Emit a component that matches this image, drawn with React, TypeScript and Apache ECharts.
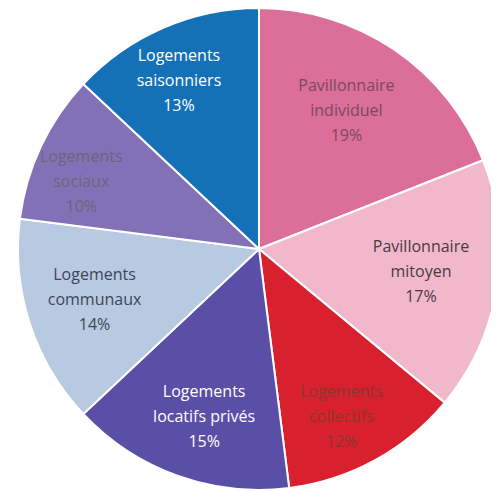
import React, { useEffect, useRef } from "react";
import * as echarts from "echarts";

const categories = [
  "Pavillonnaire\nindividuel",
  "Pavillonnaire\nmitoyen",
  "Logements\ncollectifs",
  "Logements\nlocatifs privés",
  "Logements\ncommunaux",
  "Logements\nsociaux",
  "Logements\nsaisonniers",
];
const values = [19, 17, 12, 15, 14, 10, 13];

const sliceColors = ["#DB6F9A", "#F1B8CB", "#D8202E", "#5A4EA6", "#B7CAE2", "#8371B8", "#1471B8"];
const labelColors = ["#7a4a5e", "#4a3a42", "#8a3830", "#ffffff", "#3e4656", "#6a6678", "#ffffff"];
const labelOffsets = [
  [18, -37],
  [40, 3],
  [23, 59],
  [-13, 51],
  [-47, 12],
  [-66, -15],
  [-31, -56],
];

export default function App() {
  const ref = useRef<HTMLDivElement>(null);
  useEffect(() => {
    if (!ref.current) return;
    const chart = echarts.init(ref.current, null, { renderer: "svg" });
    chart.setOption({
      animation: false,
      backgroundColor: "#ffffff",
      series: [
        {
          type: "pie",
          center: [251, 241],
          radius: [0, 241],
          startAngle: 90,
          clockwise: true,
          avoidLabelOverlap: false,
          itemStyle: { borderColor: "#ffffff", borderWidth: 2 },
          label: {
            show: true,
            position: "inside",
            fontFamily: "Open Sans",
            fontSize: 16,
            lineHeight: 25,
            align: "center",
            formatter: (p: any) => `${p.name}\n${p.value}%`,
          },
          labelLine: { show: false },
          data: categories.map((c, i) => ({
            name: c,
            value: values[i],
            itemStyle: { color: sliceColors[i] },
            label: { color: labelColors[i], offset: labelOffsets[i] },
          })),
        },
      ],
    });
    return () => chart.dispose();
  }, []);
  return <div ref={ref} style={{ width: 491, height: 484 }} />;
}
